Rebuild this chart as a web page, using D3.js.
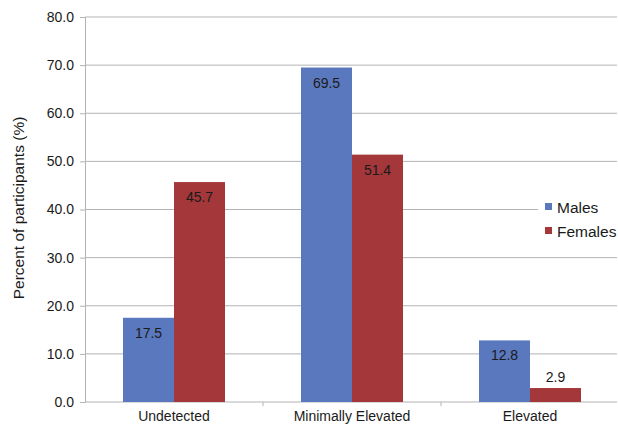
<!DOCTYPE html>
<html>
<head>
<meta charset="utf-8">
<script src="https://cdn.jsdelivr.net/npm/d3@7"></script>
<style>
  body { margin: 0; background: #fff; }
  text { font-family: "Liberation Sans", Arial, sans-serif; fill: #1a1a1a; }
</style>
</head>
<body>
<svg id="chart" width="618" height="425"></svg>
<script>
// Data
var categories = ['Undetected', 'Minimally Elevated', 'Elevated'];
var seriesNames = ['Males', 'Females'];
var males = [17.5, 69.5, 12.8];
var females = [45.7, 51.4, 2.9];
var yTicks = [0, 10, 20, 30, 40, 50, 60, 70, 80];

var colors = { Males: '#5a78bd', Females: '#a3373a' };

var svg = d3.select('#chart');
var margin = { left: 85, right: 1, top: 17, bottom: 23 };
var width = 618 - margin.left - margin.right,
    height = 425 - margin.top - margin.bottom;

var g = svg.append('g')
    .attr('transform', 'translate(' + margin.left + ',' + margin.top + ')');

// Scales
var x = d3.scaleBand().domain(categories).range([0, 534]);
var xInner = d3.scaleBand().domain(seriesNames)
    .range([0, 102]);
var y = d3.scaleLinear().domain([0, 80]).range([height, 0]);

// gridlines
g.append('g').selectAll('line')
    .data(yTicks.slice(1))
    .enter().append('line')
    .attr('x1', 0).attr('x2', width)
    .attr('y1', function(d) { return y(d); })
    .attr('y2', function(d) { return y(d); })
    .style('stroke', '#b3b3b3');

// y axis
var yAxis = d3.axisLeft(y).tickValues(yTicks).tickSize(5)
    .tickFormat(d3.format('.1f'));
var yAxisG = g.append('g').call(yAxis);
yAxisG.select('.domain').style('stroke', '#b3b3b3');
yAxisG.selectAll('.tick line').style('stroke', '#b3b3b3');
yAxisG.selectAll('.tick text')
    .attr('x', -11)
    .style('font-size', '14px')
    .style('font-family', '"Liberation Sans", Arial, sans-serif')
    .style('fill', '#1a1a1a');

// x axis
var xAxisG = g.append('g').attr('transform', 'translate(0,' + height + ')');
xAxisG.append('line')
    .attr('x1', 0).attr('x2', width)
    .style('stroke', '#b3b3b3');
xAxisG.selectAll('.tk')
    .data(categories.slice(1))
    .enter().append('line')
    .attr('class', 'tk')
    .attr('x1', function(d) { return x(d); })
    .attr('x2', function(d) { return x(d); })
    .attr('y1', 0).attr('y2', 4)
    .style('stroke', '#b3b3b3');
xAxisG.selectAll('text')
    .data(categories)
    .enter().append('text')
    .attr('x', function(d) { return x(d) + x.bandwidth() / 2; })
    .attr('y', 19)
    .attr('text-anchor', 'middle')
    .style('font-size', '14px')
    .text(function(d) { return d; });

// bars
var rows = categories.map(function(c, i) {
    return { cat: c, values: [
        { key: 'Males', value: males[i] },
        { key: 'Females', value: females[i] }
    ] };
});

var groups = g.selectAll('.group')
    .data(rows)
    .enter().append('g')
    .attr('class', 'group')
    .attr('transform', function(d) {
        return 'translate(' + (x(d.cat) + x.bandwidth() / 2 - 51) + ',0)';
    });

groups.selectAll('rect')
    .data(function(d) { return d.values; })
    .enter().append('rect')
    .attr('x', function(d) { return xInner(d.key); })
    .attr('width', xInner.bandwidth())
    .attr('y', function(d) { return y(d.value); })
    .attr('height', function(d) { return height - y(d.value); })
    .style('fill', function(d) { return colors[d.key]; });

groups.selectAll('.lbl')
    .data(function(d) { return d.values; })
    .enter().append('text')
    .attr('class', 'lbl')
    .attr('x', function(d) { return xInner(d.key) + xInner.bandwidth() / 2; })
    .attr('y', function(d) {
        // small bars get the label above
        return d.value < 5 ? y(d.value) - 6 : y(d.value) + 20;
    })
    .attr('text-anchor', 'middle')
    .style('font-size', '14px')
    .text(function(d) { return d3.format('.1f')(d.value); });

// y title
svg.append('text')
    .attr('transform', 'translate(24,208) rotate(-90)')
    .attr('text-anchor', 'middle')
    .style('font-size', '15.5px')
    .text('Percent of participants (%)');

// legend
var legend = svg.append('g')
    .attr('transform', 'translate(540,196)');
legend.append('rect')
    .attr('x', -2).attr('y', 0).attr('width', 80).attr('height', 50)
    .style('fill', '#fff');
var item = legend.selectAll('.item')
    .data(seriesNames)
    .enter().append('g')
    .attr('class', 'item')
    .attr('transform', function(d, i) { return 'translate(0,' + (i * 24) + ')'; });
item.append('rect')
    .attr('x', 5).attr('y', 7).attr('width', 7).attr('height', 7)
    .style('fill', function(d) { return colors[d]; });
item.append('text')
    .attr('x', 17).attr('y', 17)
    .style('font-size', '15.5px')
    .text(function(d) { return d; });
</script>
</body>
</html>
